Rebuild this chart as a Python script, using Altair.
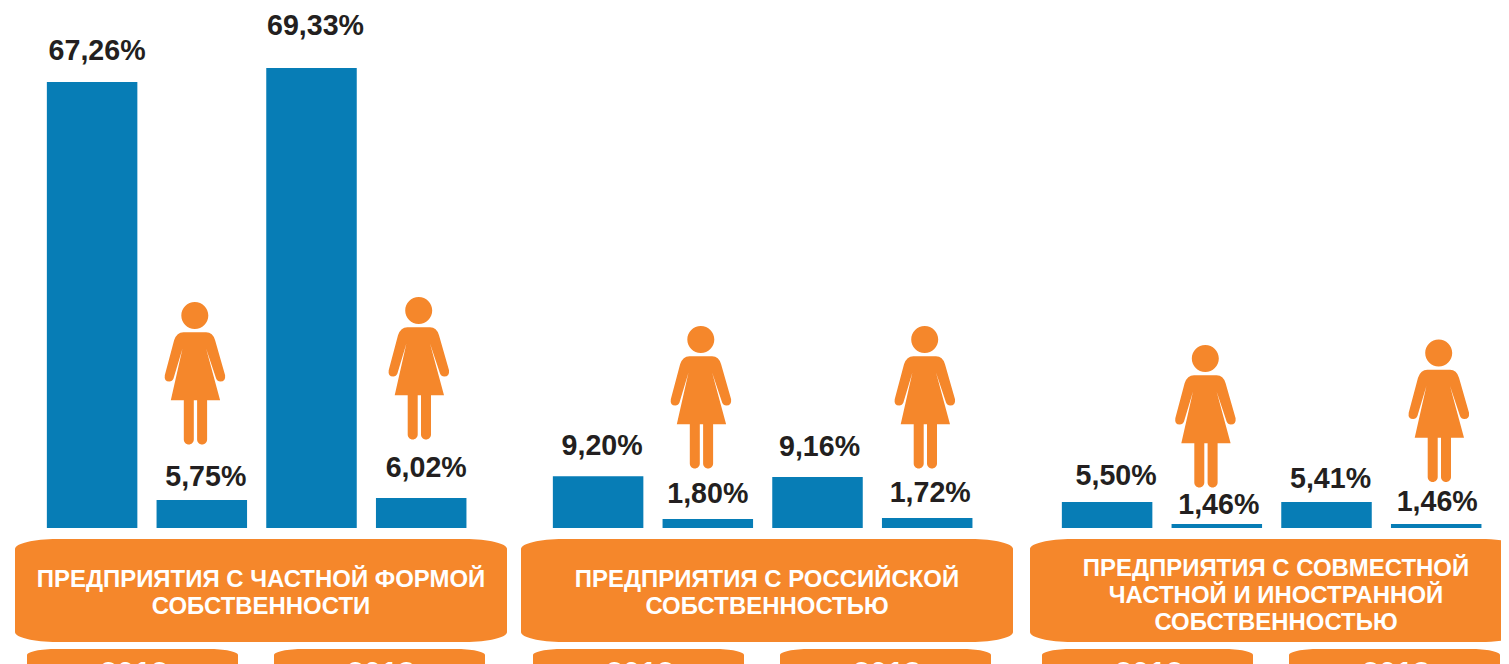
import altair as alt
import pandas as pd

BLUE = "#077db6"
ORANGE = "#f5872b"
DARK = "#231f20"
FONT = "Liberation Sans"

# ---- data ----
group_titles = [
    "ПРЕДПРИЯТИЯ С ЧАСТНОЙ ФОРМОЙ\nСОБСТВЕННОСТИ",
    "ПРЕДПРИЯТИЯ С РОССИЙСКОЙ\nСОБСТВЕННОСТЬЮ",
    "ПРЕДПРИЯТИЯ С СОВМЕСТНОЙ\nЧАСТНОЙ И ИНОСТРАННОЙ\nСОБСТВЕННОСТЬЮ",
]
years = ["2012", "2013"]
slots = ["a", "b", "c", "d"]
labels = [
    ["67,26%", "5,75%", "69,33%", "6,02%"],
    ["9,20%", "1,80%", "9,16%", "1,72%"],
    ["5,50%", "1,46%", "5,41%", "1,46%"],
]
# bar lengths as drawn in the source (not strictly proportional to the labels)
drawn = [
    [67.26, 4.22, 69.38, 4.52],
    [7.79, 1.36, 7.69, 1.51],
    [3.92, 0.6, 3.92, 0.6],
]

# ---- layout only ----
PANEL_W, PANEL_H = 492, 700
PANEL_WIDTHS = [491, 494, 471]
BASE_Y = 520
UNIT = 6.63
label_dx = [[5, 4, 4, 5], [4, 0, 2, 3], [9, 2, 4, 1]]
label_dy = [[-22, -14, -33, -21], [-21, -16, -21, -16], [-17, -10, -14, -13]]
figure_dx = [[-7, -2.5], [-7, -2.5], [-11.5, 2.5]]
figure_dy = [[-126.5, -129.5], [-121.5, -120.5], [-107.5, -113]]
title_y = [559.5, 559.5, 548.5]
year_x = [117.5, 364.5]

FIGURE = (
    "M -13.5 -58 A 13.5 13.5 0 1 1 13.5 -58 A 13.5 13.5 0 1 1 -13.5 -58 Z "
    "M -11.3 -41.3 L 11.3 -41.3 Q 18 -41.3 20.3 -33.3 L 30.3 1.7 Q 31 8 25.5 8 Q 22.5 8 21.3 5 "
    "L 11.3 -25 L 25.3 26.7 L 12.3 26.7 L 12.3 66 A 5 5 0 0 1 2.3 66 L 2.3 26.7 L -1 26.7 "
    "L -1 66 A 5 5 0 0 1 -11 66 L -11 26.7 L -24 26.7 L -12.3 -25 L -21.3 5 Q -22.5 8 -25.5 8 "
    "Q -31 8 -30 1.7 L -20.7 -33.3 Q -18 -41.3 -11.3 -41.3 Z"
)


def pill(w, h, cx, cy):
    hw, hh = w / 2, h / 2
    return (
        f"M {-hw + cx} {-hh} L {hw - cx} {-hh} "
        f"A {cx} {cy} 0 0 1 {hw} {-hh + cy} L {hw} {hh - cy} "
        f"A {cx} {cy} 0 0 1 {hw - cx} {hh} L {-hw + cx} {hh} "
        f"A {cx} {cy} 0 0 1 {-hw} {hh - cy} L {-hw} {-hh + cy} "
        f"A {cx} {cy} 0 0 1 {-hw + cx} {-hh} Z"
    )


def pill_cut(w, h, cx, cy, cut, cut_drop):
    """Same outline, running off the right-hand edge of the picture."""
    hw, hh = w / 2, h / 2
    return (
        f"M {-hw + cx} {-hh} L {hw - cx} {-hh} "
        f"A {cx} {cy} 0 0 1 {cut} {-hh + cut_drop} L {cut} {hh - cut_drop} "
        f"A {cx} {cy} 0 0 1 {hw - cx} {hh} L {-hw + cx} {hh} "
        f"A {cx} {cy} 0 0 1 {-hw} {hh - cy} L {-hw} {-hh + cy} "
        f"A {cx} {cy} 0 0 1 {-hw + cx} {-hh} Z"
    )


y_scale = alt.Scale(domain=[-(PANEL_H - BASE_Y) / UNIT, BASE_Y / UNIT], nice=False, zero=False)


def panel(g):
    x_enc = alt.X(
        "slot:N",
        axis=None,
        scale=alt.Scale(
            domain=slots, range=[0, PANEL_W], paddingInner=0.175, paddingOuter=0.33, align=0.44
        ),
    )
    df = pd.DataFrame({"slot": slots, "drawn": drawn[g], "label": labels[g]})
    y_enc = alt.Y("drawn:Q", axis=None, scale=y_scale)
    layers = [
        alt.Chart(df).mark_bar(color=BLUE, size=90.5, cornerRadius=0).encode(
            x=x_enc, y=y_enc, y2=alt.datum(0)
        )
    ]
    for i in range(4):
        row = alt.Chart(df[df.slot == slots[i]])
        layers.append(
            row.mark_text(
                font=FONT, fontWeight="bold", fontSize=28.6, color=DARK,
                baseline="alphabetic", dx=label_dx[g][i], dy=label_dy[g][i],
            ).encode(x=x_enc, y=y_enc, text="label:N")
        )
    for k, i in enumerate((1, 3)):
        row = alt.Chart(df[df.slot == slots[i]])
        layers.append(
            row.mark_point(
                shape=FIGURE, filled=True, fill=ORANGE, strokeWidth=0, size=4, opacity=1,
                xOffset=figure_dx[g][k], yOffset=figure_dy[g][k],
            ).encode(x=x_enc, y=y_enc)
        )
    deco = alt.Chart(pd.DataFrame({"t": [group_titles[g]]}))
    shape = pill(492, 103, 42, 10) if g < 2 else pill_cut(492, 103, 42, 10, 225, 1.3)
    layers.append(
        deco.mark_point(
            shape=shape, filled=True, fill=ORANGE, strokeWidth=0, size=4, opacity=1
        ).encode(x=alt.value(246), y=alt.value(582.5))
    )
    layers.append(
        deco.mark_text(
            font=FONT, fontWeight="bold", fontSize=23.95, color="white", lineBreak="\n",
            lineHeight=27, baseline="top", align="center",
        ).encode(x=alt.value(246), y=alt.value(title_y[g]), text="t:N")
    )
    for yr, xp in zip(years, year_x):
        ydf = alt.Chart(pd.DataFrame({"t": [yr]}))
        layers.append(
            ydf.mark_point(
                shape=pill(211, 44, 30, 6), filled=True, fill=ORANGE, strokeWidth=0, size=4, opacity=1
            ).encode(x=alt.value(xp), y=alt.value(663))
        )
        layers.append(
            ydf.mark_text(
                font=FONT, fontWeight="bold", fontSize=30.5, color="white", baseline="alphabetic", dx=1.5
            ).encode(x=alt.value(xp), y=alt.value(676), text="t:N")
        )
    return alt.layer(*layers).properties(width=PANEL_WIDTHS[g], height=PANEL_H)


chart = (
    alt.hconcat(panel(0), panel(1), panel(2), spacing=15, bounds="flush")
    .properties(padding={"left": 7, "top": 0, "right": 0, "bottom": 0}, background="white")
    .configure_view(stroke="transparent", strokeWidth=0)
)
chart.save("out.html", embed_options={"renderer": "svg", "actions": False})
